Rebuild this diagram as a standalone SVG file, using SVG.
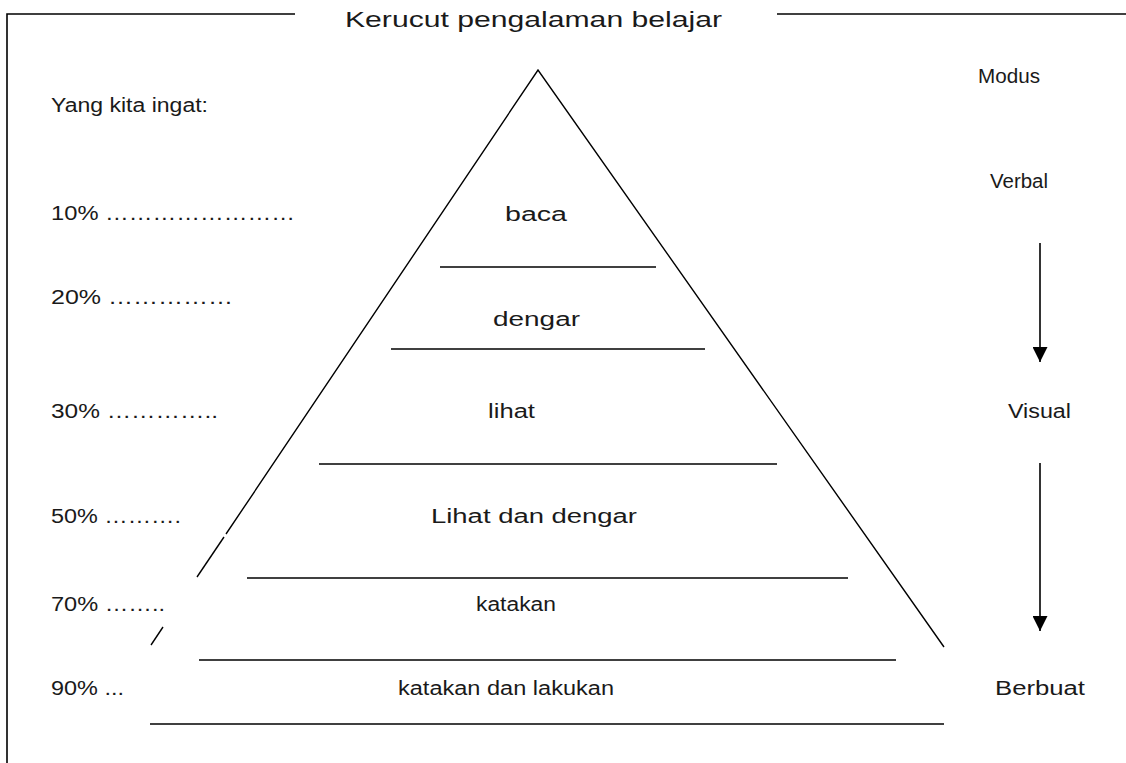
<svg xmlns="http://www.w3.org/2000/svg" width="1126" height="763" viewBox="0 0 1126 763">
<defs>
<style>
.t{font-family:"Liberation Sans",Arial,sans-serif;font-size:19.5px;fill:#1a1a1a}
.ttl{font-family:"Liberation Sans",Arial,sans-serif;font-size:22px;fill:#1a1a1a}
.ln{stroke:#000;stroke-width:1.6;fill:none}
.side{stroke:#000;stroke-width:1.4;fill:none}
.arr{stroke:#000;stroke-width:1.6;fill:none}
</style>
<marker id="ah" viewBox="0 0 10 10" refX="10" refY="5" markerWidth="15" markerHeight="15" markerUnits="userSpaceOnUse" orient="auto">
<path d="M0,0 L10,5 L0,10 z" fill="#000"/>
</marker>
</defs>
<rect width="1126" height="763" fill="#fff"/>
<g id="frame">
<path class="ln" d="M295,14 H7 V763"/>
<path class="ln" d="M777,14 H1126"/>
<text class="ttl" x="345" y="27" textLength="377" lengthAdjust="spacingAndGlyphs">Kerucut pengalaman belajar</text>
</g>
<g id="pyramid">
<path class="side" d="M226,534 L538,70 L944,647"/>
<path class="side" d="M224,537 L197,577"/>
<path class="side" d="M163,627 L151,645"/>
</g>
<g id="layer-baca">
<text class="t" x="505" y="221" textLength="62" lengthAdjust="spacingAndGlyphs">baca</text>
<line class="ln" x1="440" y1="267" x2="656" y2="267"/>
</g>
<g id="layer-dengar">
<text class="t" x="493" y="326" textLength="87" lengthAdjust="spacingAndGlyphs">dengar</text>
<line class="ln" x1="391" y1="349" x2="705" y2="349"/>
</g>
<g id="layer-lihat">
<text class="t" x="488" y="418" textLength="47" lengthAdjust="spacingAndGlyphs">lihat</text>
<line class="ln" x1="319" y1="464" x2="777" y2="464"/>
</g>
<g id="layer-lihat-dengar">
<text class="t" x="431" y="523" textLength="206" lengthAdjust="spacingAndGlyphs">Lihat dan dengar</text>
<line class="ln" x1="247" y1="578" x2="848" y2="578"/>
</g>
<g id="layer-katakan">
<text class="t" x="476" y="611" textLength="80" lengthAdjust="spacingAndGlyphs">katakan</text>
<line class="ln" x1="199" y1="660" x2="896" y2="660"/>
</g>
<g id="layer-lakukan">
<text class="t" x="398" y="695" textLength="216" lengthAdjust="spacingAndGlyphs">katakan dan lakukan</text>
<line class="ln" x1="150" y1="724" x2="944" y2="724"/>
</g>
<g id="remember">
<text class="t" x="51" y="112" textLength="157" lengthAdjust="spacingAndGlyphs">Yang kita ingat:</text>
<text class="t" x="51" y="220" textLength="244" lengthAdjust="spacingAndGlyphs">10% ……………………</text>
<text class="t" x="51" y="304" textLength="182" lengthAdjust="spacingAndGlyphs">20% ……………</text>
<text class="t" x="51" y="418" textLength="167" lengthAdjust="spacingAndGlyphs">30% …………..</text>
<text class="t" x="51" y="523" textLength="130" lengthAdjust="spacingAndGlyphs">50% ……….</text>
<text class="t" x="51" y="611" textLength="114" lengthAdjust="spacingAndGlyphs">70% ……..</text>
<text class="t" x="51" y="695" textLength="73" lengthAdjust="spacingAndGlyphs">90% ...</text>
</g>
<g id="modus">
<text class="t" x="978" y="83" textLength="62" lengthAdjust="spacingAndGlyphs">Modus</text>
<text class="t" x="990" y="188" textLength="58" lengthAdjust="spacingAndGlyphs">Verbal</text>
<text class="t" x="1008" y="418" textLength="63" lengthAdjust="spacingAndGlyphs">Visual</text>
<text class="t" x="995" y="695" textLength="90" lengthAdjust="spacingAndGlyphs">Berbuat</text>
</g>
<g id="connectors">
<line class="arr" x1="1040" y1="243" x2="1040" y2="362" marker-end="url(#ah)"/>
<line class="arr" x1="1040" y1="463" x2="1040" y2="631" marker-end="url(#ah)"/>
</g>
</svg>
